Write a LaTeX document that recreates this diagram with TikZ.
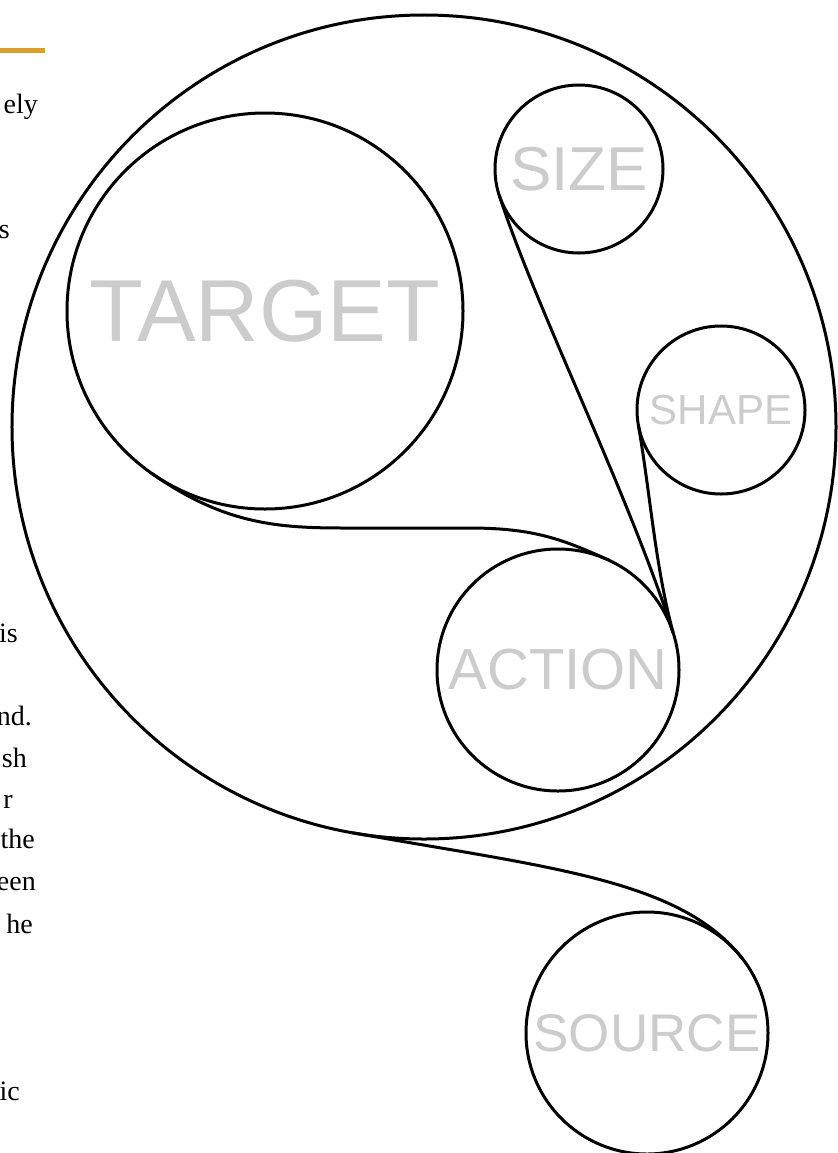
\documentclass[tikz,border=0pt]{standalone}
\usepackage{fontspec}
\setmainfont{Liberation Serif}
\newfontfamily\labelfont{Liberation Sans}
\usetikzlibrary{calc}
\definecolor{labelgray}{RGB}{204,204,204}
\definecolor{rulecol}{RGB}{218,158,42}
\begin{document}
\begin{tikzpicture}[x=1bp,y=-1bp,
  ring/.style={circle,draw=black,line width=3bp,inner sep=0pt,outer sep=0pt,text=labelgray},
  tail/.style={draw=black,line width=3bp},
  margin/.style={anchor=base east,inner sep=0pt,font=\fontsize{28bp}{34bp}\selectfont}]
\fill[white] (0,0) rectangle (838,1153);
\useasboundingbox (0,0) rectangle (838,1153);
\begin{scope}
\clip (0,0) rectangle (838,1153);
% margin text fragments
\fill[rulecol] (0,48) rectangle (45,53);
\node[margin] (t1) at (38,113) {ely};
\node[margin] (t2) at (10,238) {s};
\node[margin] (t3) at (18,642) {is};
\node[margin] (t4) at (32,725) {nd.};
\node[margin] (t5) at (27,767) {sh};
\node[margin] (t6) at (13,808) {r};
\node[margin] (t7) at (35,848) {the};
\node[margin] (t8) at (36,890) {een};
\node[margin] (t9) at (33,933) {he};
\node[margin] (t10) at (20,1100) {ic};
% circles
\node[ring,minimum size=824bp] (big) at (424,427) {};
\node[ring,minimum size=396bp,font=\labelfont\fontsize{88bp}{88bp}\selectfont] (target) at (265,311) {TARGET};
\node[ring,minimum size=168bp,font=\labelfont\fontsize{62bp}{62bp}\selectfont] (size) at (579,169) {SIZE};
\node[ring,minimum size=168bp,font=\labelfont\fontsize{42bp}{42bp}\selectfont] (shape) at (721,410) {SHAPE};
\node[ring,minimum size=242bp,font=\labelfont\fontsize{58bp}{58bp}\selectfont] (action) at (558,670) {ACTION};
\node[ring,minimum size=242bp,font=\labelfont\fontsize{53bp}{53bp}\selectfont] (source) at (647,1033) {SOURCE};
% tails
\coordinate (tf1) at (346,528);
\coordinate (tf2) at (468,528);
\draw[tail] (target.-125) .. controls ($(target.-125)+(74,52)$) and (280,528) .. (tf1) -- (tf2) .. controls (530,528) and ($(action.65)+(-50,-23)$) .. (action.65);
\draw[tail] (size.198) .. controls ($(size.198)+(37,114)$) and ($(action.18)+(-46,-143)$) .. (action.18);
\draw[tail] (shape.190) .. controls ($(shape.190)+(12,69)$) and ($(action.18)+(-18,-67)$) .. (action.18);
\draw[tail] (big.-100) .. controls ($(big.-100)+(197,35)$) and ($(source.38)+(-62,-79)$) .. (source.38);
\end{scope}
\end{tikzpicture}
\end{document}
